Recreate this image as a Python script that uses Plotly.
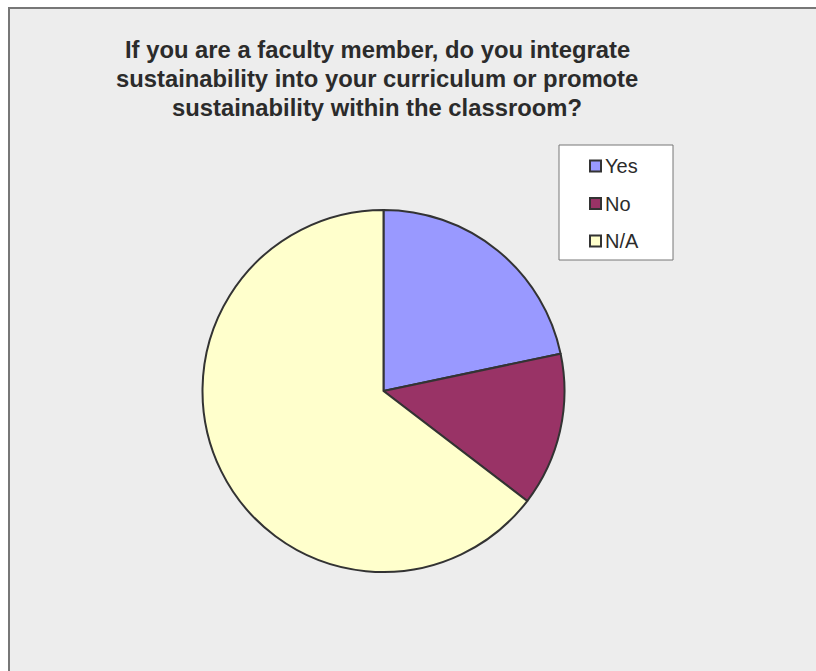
import plotly.graph_objects as go

# survey answers (share of respondents)
labels = ["Yes", "No", "N/A"]
values = [21.7, 13.7, 64.6]
colors = ["#9999FF", "#993366", "#FFFFCC"]

title_lines = [
    "If you are a faculty member, do you integrate",
    "sustainability into your curriculum or promote",
    "sustainability within the classroom?",
]

W, H = 816, 671


def px(x):
    return x / W


def py(y):
    return 1 - y / H


fig = go.Figure(
    go.Pie(
        labels=labels,
        values=values,
        sort=False,
        direction="clockwise",
        rotation=0,
        textinfo="none",
        hoverinfo="label+percent",
        showlegend=False,
        marker=dict(colors=colors, line=dict(color="#333333", width=2)),
        domain=dict(x=[px(202.5), px(564.5)], y=[py(572), py(210)]),
    )
)

# grey chart panel, cropped at right and bottom
fig.add_shape(
    type="rect", xref="paper", yref="paper",
    x0=px(9), x1=1.05, y0=-0.05, y1=py(8),
    fillcolor="#EDEDED", line=dict(color="#777777", width=2), layer="below",
)

for i, line in enumerate(title_lines):
    fig.add_annotation(
        text="<b>" + line + "</b>",
        xref="paper", yref="paper", x=px(377), y=py(49 + 29.4 * i),
        xanchor="center", yanchor="middle", showarrow=False,
        font=dict(family="Liberation Sans", size=23.8, color="#2b2b2b"),
    )

# legend box drawn by hand to match the original spacing
fig.add_shape(
    type="rect", xref="paper", yref="paper",
    x0=px(559), x1=px(673), y0=py(260), y1=py(145),
    fillcolor="white", line=dict(color="#777777", width=1),
)
for i, (lab, col) in enumerate(zip(labels, colors)):
    yc = 166 + 37.5 * i
    fig.add_shape(
        type="rect", xref="paper", yref="paper",
        x0=px(590), x1=px(601), y0=py(yc + 5.5), y1=py(yc - 5.5),
        fillcolor=col, line=dict(color="#333333", width=2),
    )
    fig.add_annotation(
        text=lab, xref="paper", yref="paper", x=px(603), y=py(yc),
        xanchor="left", yanchor="middle", showarrow=False,
        font=dict(family="Liberation Sans", size=20, color="#2b2b2b"),
    )

fig.update_layout(
    width=W, height=H,
    margin=dict(l=0, r=0, t=0, b=0),
    paper_bgcolor="white",
    font=dict(family="Liberation Sans", color="#2b2b2b"),
    showlegend=False,
)

# drop the default body margin so the figure fills the window
fig.write_html(
    "out.html",
    config={"displayModeBar": False},
    post_script="document.body.style.margin='0';document.body.style.overflow='hidden';",
)
